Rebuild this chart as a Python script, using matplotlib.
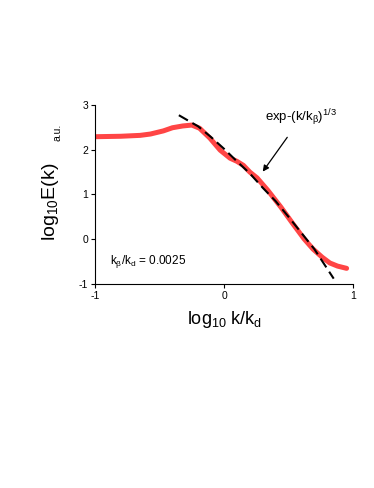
import matplotlib
matplotlib.use("Agg")
import matplotlib.pyplot as plt

plt.rcParams["font.family"] = ["Liberation Sans", "DejaVu Sans"]
plt.rcParams["axes.unicode_minus"] = False
plt.rcParams["mathtext.fontset"] = "custom"
plt.rcParams["mathtext.rm"] = "Liberation Sans"
plt.rcParams["mathtext.it"] = "Liberation Sans"

# measured spectrum (red)
spec_x = [-1.0, -0.8, -0.65, -0.57, -0.47, -0.40, -0.32, -0.25, -0.19, -0.11,
          -0.03, 0.047, 0.10, 0.15, 0.20, 0.256, 0.34, 0.44, 0.535, 0.62,
          0.69, 0.76, 0.82, 0.88, 0.95]
spec_y = [2.29, 2.30, 2.32, 2.35, 2.42, 2.49, 2.53, 2.55, 2.48, 2.26,
          1.99, 1.81, 1.74, 1.65, 1.50, 1.37, 1.09, 0.72, 0.34, 0.01,
          -0.22, -0.40, -0.53, -0.60, -0.65]

# stretched exponential fit (dashed)
fit_x = [-0.35, -0.2, -0.1, 0.0, 0.1, 0.2, 0.3, 0.4, 0.5, 0.6, 0.7, 0.85]
fit_y = [2.77, 2.52, 2.28, 2.02, 1.74, 1.47, 1.15, 0.85, 0.50, 0.14, -0.22, -0.88]

x_ticks = [-1, 0, 1]
y_ticks = [-1, 0, 1, 2, 3]

fig = plt.figure(figsize=(3.74, 4.88), dpi=100)
ax = fig.add_axes([0.254, 0.418, 0.690, 0.367])

ax.plot(spec_x, spec_y, color="#ff4545", linewidth=3.6, solid_capstyle="round",
        solid_joinstyle="round", zorder=2)
ax.plot(fit_x, fit_y, color="black", linewidth=1.5, dashes=(5, 2.5), zorder=3)

ax.set_xlim(-1, 1)
ax.set_ylim(-1, 3)
ax.set_xticks(x_ticks)
ax.set_yticks(y_ticks)
ax.set_xticklabels([str(v) for v in x_ticks])
ax.set_yticklabels([str(v) for v in y_ticks])
ax.tick_params(direction="out", length=3, width=0.8, labelsize=7.5, pad=2)
for side in ("top", "right"):
    ax.spines[side].set_visible(False)
for side in ("left", "bottom"):
    ax.spines[side].set_linewidth(0.8)
ax.patch.set_visible(False)

ax.annotate(r"exp-(k/k$_\beta$)$^{1/3}$", xy=(0.30, 1.51), xytext=(0.6, 2.72),
            fontsize=9.5, ha="center", va="center",
            arrowprops=dict(arrowstyle="-|>", color="black", lw=0.9,
                            mutation_scale=9, shrinkA=6, shrinkB=0))
ax.text(-0.88, -0.5, r"k$_\beta$/k$_d$ = 0.0025", fontsize=8.5, va="center")

fig.text(0.136, 0.586, r"log$_{10}$E(k)", rotation=90, fontsize=14,
         ha="center", va="center")
fig.text(0.153, 0.728, "a.u.", rotation=90, fontsize=7.5, ha="center",
         va="center")
fig.text(0.601, 0.345, r"log$_{10}$ k/k$_d$", fontsize=13, ha="center",
         va="center")

fig.savefig("out.png", dpi=100)
